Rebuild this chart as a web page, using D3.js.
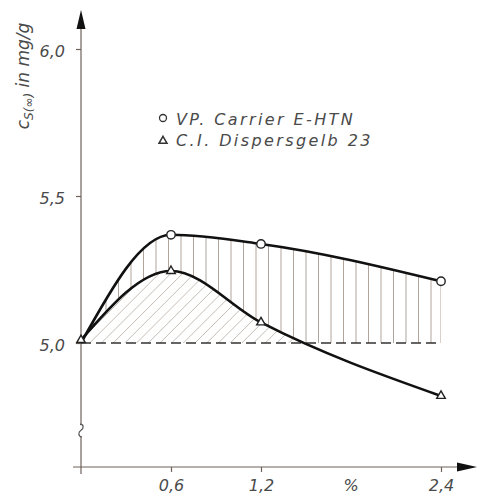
<!DOCTYPE html>
<html lang="de">
<head>
<meta charset="UTF-8">
<title>cs in mg/g</title>
<style>
  body { margin: 0; background: #fff; }
  text { font-family: "DejaVu Sans", sans-serif; font-style: italic; fill: #4a4a4a; }
</style>
</head>
<body>
<svg id="chart" width="480" height="496"></svg>
<script src="https://d3js.org/d3.v7.min.js"></script>
<script>
var konz = [0, 0.6, 1.2, 2.4];
var carrier = [5.0, 5.368, 5.337, 5.21];
var gelb = [5.01, 5.245, 5.07, 4.82];
var yTicks = [5.0, 5.5, 6.0];
var yTickLabels = ["5,0", "5,5", "6,0"];
var xTicks = [0.6, 1.2, 2.4];
var xTickLabels = ["0,6", "1,2", "2,4"];
var unitLabel = "%", unitPos = 1.8;
var legendNames = ["VP. Carrier E-HTN", "C.I. Dispersgelb 23"];
var basis = 5.0;
var bruchWert = 4.7;

var svg = d3.select("#chart"),
  x = d3.scaleLinear().domain([0, 2.4]).range([81, 441]),
  y = d3.scaleLinear().domain([5.0, 6.0]).range([343, 49]),
  axisY = 467,
  axisCol = "#6e625a",
  hatchCol = "#a89a90";

var carrierPts = konz.map(function(k, i) { return [k, carrier[i]]; });
var gelbPts = konz.map(function(k, i) { return [k, gelb[i]]; });

var kurve = d3.curveMonotoneX;

var line = d3.line()
  .x(function(d) { return x(d[0]); })
  .y(function(d) { return y(d[1]); })
  .curve(kurve);

var area = d3.area()
  .x(function(d) { return x(d[0]); })
  .y0(y(basis))
  .y1(function(d) { return y(d[1]); })
  .curve(kurve);

var defs = svg.append("defs");
defs.append("clipPath").attr("id", "clipTop")
  .append("path").attr("d", area(carrierPts));
defs.append("clipPath").attr("id", "clipGelb")
  .append("path").attr("d", area(gelbPts));
defs.append("clipPath").attr("id", "clipAbove")
  .append("rect").attr("x", 0).attr("y", 0).attr("width", 480).attr("height", y(basis));

// senkrechte Schraffur
var vx = d3.range(0, 2.4, 1 / 12).concat([2.4]);
svg.append("g").attr("clip-path", "url(#clipTop)")
  .selectAll("line").data(vx).enter().append("line")
  .attr("x1", function(d) { return x(d); })
  .attr("x2", function(d) { return x(d); })
  .attr("y1", y(basis))
  .attr("y2", y(5.6))
  .attr("stroke", hatchCol)
  .attr("stroke-width", 0.9);

// schraege Schraffur
var gDiag = svg.append("g").attr("clip-path", "url(#clipAbove)")
  .append("g").attr("clip-path", "url(#clipGelb)");
gDiag.append("rect")
  .attr("x", x(0)).attr("y", y(5.5))
  .attr("width", x(2.4) - x(0)).attr("height", y(basis) - y(5.5))
  .attr("fill", "#fff");
gDiag.selectAll("line").data(d3.range(x(0) - 120, x(2.4), 11.7)).enter().append("line")
  .attr("x1", function(d) { return d; })
  .attr("y1", y(basis))
  .attr("x2", function(d) { return d + 120; })
  .attr("y2", y(basis) - 120)
  .attr("stroke", "#bdb5ae")
  .attr("stroke-width", 0.9);

// gestrichelte Basislinie
svg.append("line")
  .attr("x1", x(0)).attr("x2", x(2.4))
  .attr("y1", y(basis)).attr("y2", y(basis))
  .attr("stroke", "#333")
  .attr("stroke-width", 1.4)
  .attr("stroke-dasharray", "10,5");

// Achsen
var yAxis = svg.append("g")
  .attr("transform", "translate(" + x(0) + ",0)")
  .call(d3.axisLeft(y).tickValues(yTicks)
    .tickFormat(function(d, i) { return yTickLabels[i]; })
    .tickSize(5).tickPadding(11));
var xAxis = svg.append("g")
  .attr("transform", "translate(0," + axisY + ")")
  .call(d3.axisBottom(x).tickValues(xTicks)
    .tickFormat(function(d, i) { return xTickLabels[i]; })
    .tickSize(5).tickPadding(8));
[yAxis, xAxis].forEach(function(a) {
  a.select(".domain").remove();
  a.selectAll(".tick line").attr("stroke", axisCol).attr("stroke-width", 1.2);
  a.selectAll(".tick text")
    .attr("fill", "#4a4a4a")
    .style("font-size", "16px")
    .style("font-family", "DejaVu Sans, sans-serif");
});
yAxis.selectAll(".tick text").attr("dy", "0.45em");

svg.append("text")
  .attr("x", x(unitPos)).attr("y", axisY + 24)
  .attr("text-anchor", "middle")
  .style("font-size", "16px")
  .text(unitLabel);

svg.append("line")
  .attr("x1", x(0)).attr("x2", x(0))
  .attr("y1", y(6.0) - 22).attr("y2", axisY + 7)
  .attr("stroke", axisCol).attr("stroke-width", 1.2);
svg.append("path")
  .attr("d", "M" + x(0) + "," + (y(6.0) - 39) + "L" + (x(0) - 4.5) + "," + (y(6.0) - 20) +
    "L" + (x(0) + 4.5) + "," + (y(6.0) - 20) + "Z")
  .attr("fill", "#111");
svg.append("line")
  .attr("x1", x(0) - 8).attr("x2", x(2.4) + 18)
  .attr("y1", axisY).attr("y2", axisY)
  .attr("stroke", axisCol).attr("stroke-width", 1.2);
svg.append("path")
  .attr("d", "M" + (x(2.4) + 36) + "," + axisY + "L" + (x(2.4) + 16) + "," + (axisY - 4.5) +
    "L" + (x(2.4) + 16) + "," + (axisY + 4.5) + "Z")
  .attr("fill", "#111");

// Achsenbruch
var by = y(bruchWert);
svg.append("rect").attr("x", x(0) - 3).attr("y", by - 6).attr("width", 6).attr("height", 12).attr("fill", "#fff");
svg.append("path")
  .attr("d", "M" + (x(0) - 1) + "," + (by - 7) + " c4,0 4,4 1,6 c-3,2 -3,6 1,7")
  .attr("fill", "none").attr("stroke", "#555").attr("stroke-width", 1.2);

// Kurven
svg.append("path").attr("d", line(carrierPts))
  .attr("fill", "none").attr("stroke", "#111").attr("stroke-width", 2.6);
svg.append("path").attr("d", line(gelbPts))
  .attr("fill", "none").attr("stroke", "#111").attr("stroke-width", 2.6);

// Markierungen
svg.selectAll(".kreis").data(carrierPts.slice(1)).enter().append("circle")
  .attr("class", "kreis")
  .attr("cx", function(d) { return x(d[0]); })
  .attr("cy", function(d) { return y(d[1]); })
  .attr("r", 4.2)
  .attr("fill", "#fff").attr("stroke", "#222").attr("stroke-width", 1.4);
var tri = d3.symbol().type(d3.symbolTriangle).size(32);
svg.selectAll(".dreieck").data(gelbPts).enter().append("path")
  .attr("class", "dreieck")
  .attr("transform", function(d) { return "translate(" + x(d[0]) + "," + y(d[1]) + ")"; })
  .attr("d", tri)
  .attr("fill", "#fff").attr("stroke", "#222").attr("stroke-width", 1.4);

// Legende
var leg = svg.append("g").attr("transform", "translate(163,118)");
leg.append("circle").attr("cx", 0).attr("cy", 0).attr("r", 3.5)
  .attr("fill", "#fff").attr("stroke", "#333").attr("stroke-width", 1.3);
leg.append("path").attr("transform", "translate(0,23)").attr("d", d3.symbol().type(d3.symbolTriangle).size(28))
  .attr("fill", "#fff").attr("stroke", "#333").attr("stroke-width", 1.5);
leg.selectAll("text").data(legendNames).enter().append("text")
  .attr("x", 13)
  .attr("y", function(d, i) { return 7 + i * 21; })
  .style("font-size", "16px")
  .style("letter-spacing", "2.4px")
  .text(function(d) { return d; });

// y-Achsentitel
var yl = svg.append("text")
  .attr("transform", "translate(29,76) rotate(-90)")
  .attr("text-anchor", "middle")
  .style("font-size", "17px");
yl.append("tspan").text("c");
yl.append("tspan").attr("dy", 4).style("font-size", "12px").text("S(\u221E)");
yl.append("tspan").attr("dy", -4).text(" in mg/g");
</script>
</body>
</html>
